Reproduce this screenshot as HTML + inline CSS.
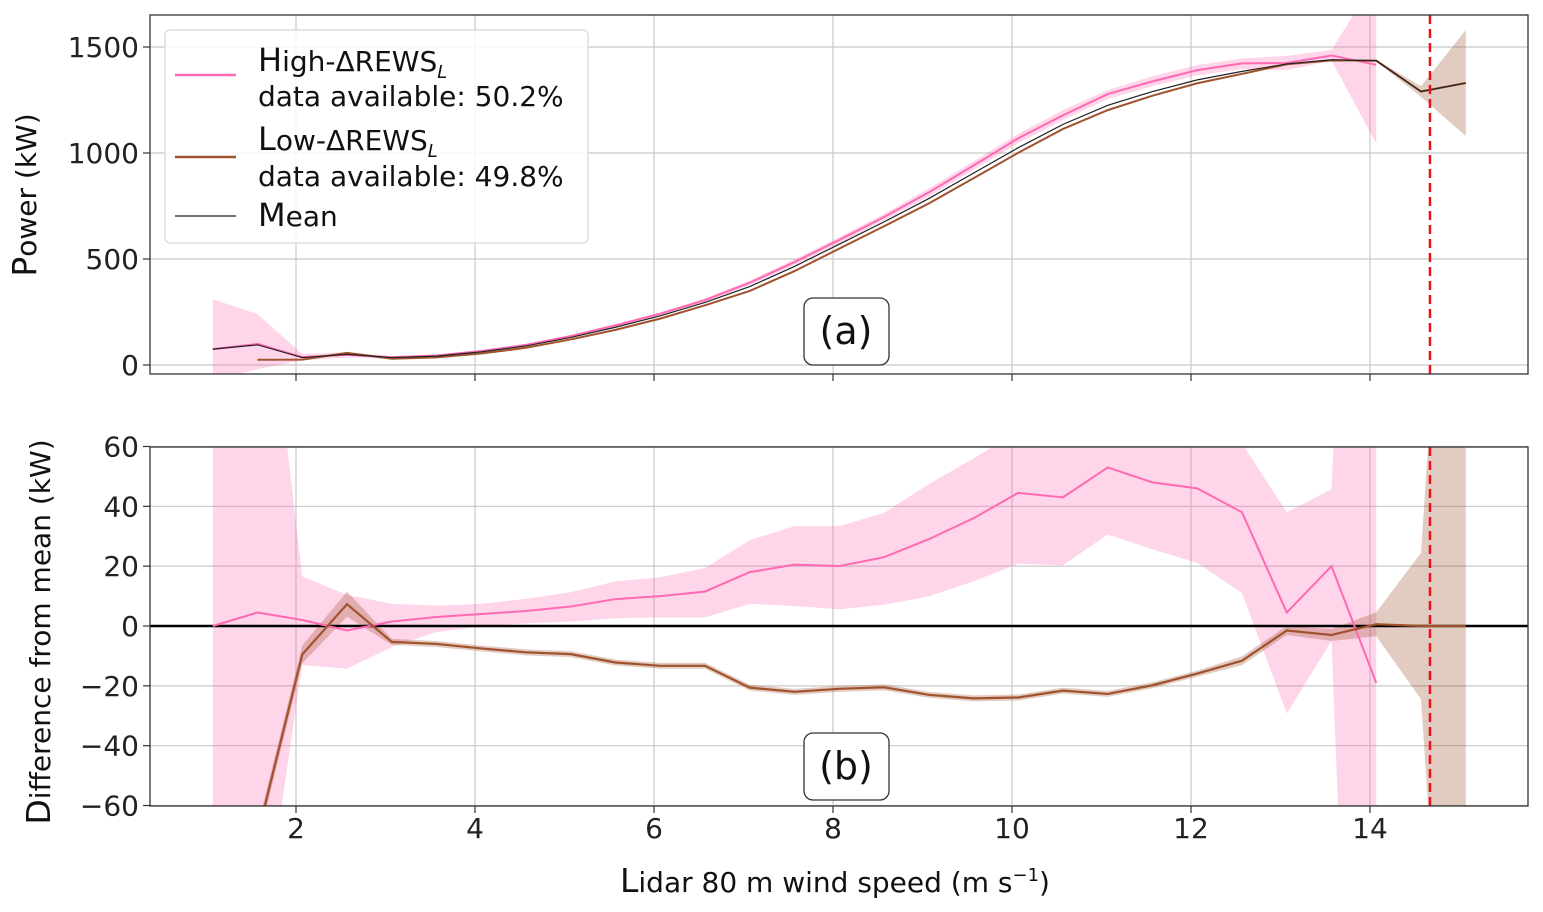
<!DOCTYPE html>
<html><head><meta charset="utf-8"><style>
html,body{margin:0;background:#fff;width:1543px;height:912px;overflow:hidden;}
#wrap{position:relative;width:1543px;height:912px;overflow:hidden;}
svg{display:block;font-family:"DejaVu Sans","Liberation Sans",sans-serif;}
</style></head><body><div id="wrap">
<svg id="chart" width="1543" height="912" viewBox="0 0 1543 912" style="position:absolute;left:0;top:0"></svg>
<script>
const windSpeed=[1.07,1.57,2.07,2.57,3.07,3.57,4.07,4.57,5.07,5.57,6.07,6.57,7.07,7.57,8.07,8.57,9.07,9.57,10.07,10.57,11.07,11.57,12.07,12.57,13.07,13.57,14.07,14.57,15.07];
const meanPower=[75,95,35,50,35,42,62,90,130,178,232,295,370,465,570,675,785,905,1025,1135,1225,1290,1345,1385,1420,1440,1435,1290,1330];
const highDiff=[0,4.5,2,-1.5,1.5,3,4,5,6.5,9,10,11.5,18,20.5,20,23,29,36,44.5,43,53,48,46,38,4.5,20,-19,null,null];
const highBandLo=[-150,-115,-13,-14.3,-7,-2,-0.2,0.9,1.5,2.6,2.9,2.9,7.4,6.7,5.6,7.1,9.9,14.9,20.8,20.3,30.6,25.6,21.1,11,-29.3,-5,-390,null,null];
const highBandHi=[235,145,16.6,10.4,7.4,6.8,7.4,9.1,11.3,14.9,16.3,19.4,28.7,33.4,33.4,37.8,47.4,56,65,68,72,72,70,61,38,45.7,390,null,null];
const lowDiff=[null,-70,-9.5,7.3,-5.3,-6,-7.5,-8.8,-9.4,-12.2,-13.3,-13.3,-20.6,-22,-21,-20.5,-23,-24.2,-23.9,-21.6,-22.7,-19.8,-15.9,-11.6,-1.5,-3,0.6,0,0];
const lowBandHalf=[null,3,3,4.2,1,1,1,1,1,1,1,1,1,1,1,1,1,1,1,1,1,1,1,1.5,1.5,2,4,24.5,250];
const topTicks=[0,500,1000,1500];
const botTicks=[-60,-40,-20,0,20,40,60];
const xTicks=[2,4,6,8,10,12,14];
const cutoffSpeed=14.67;

const NS="http://www.w3.org/2000/svg";
const svg=document.getElementById('chart');
const L=150,R=1528;
const P1={t:15,b:374},P2={t:447,b:806};
const xs=v=>117+89.5*v;
const yTop=v=>365-v*0.212;
const yBot=v=>626-v*2.992;
function el(tag,attrs,parent){const e=document.createElementNS(NS,tag);for(const k in attrs)e.setAttribute(k,attrs[k]);(parent||svg).appendChild(e);return e;}
const defs=el('defs',{});
const c1=el('clipPath',{id:'c1'},defs);el('rect',{x:L,y:P1.t,width:R-L,height:P1.b-P1.t},c1);
const c2=el('clipPath',{id:'c2'},defs);el('rect',{x:L,y:P2.t,width:R-L,height:P2.b-P2.t},c2);

function panel(P,ticks,ys,name){
  const g=el('g',{});
  
  
  xTicks.forEach(t=>{
    const l=el('line',{x1:xs(t),x2:xs(t),y1:P.t,y2:P.b,stroke:'#c8c8c8','stroke-width':1.2},g);
    
    el('line',{x1:xs(t),x2:xs(t),y1:P.b,y2:P.b+7,stroke:'#333','stroke-width':1.2},g);
  });
  ticks.forEach(t=>{
    const y=ys(t);
    const l=el('line',{x1:L,x2:R,y1:y,y2:y,stroke:'#c8c8c8','stroke-width':1.2},g);
    
    el('line',{x1:L-7,x2:L,y1:y,y2:y,stroke:'#333','stroke-width':1.2},g);
    const tx=el('text',{x:L-11,y:y+10,'text-anchor':'end','font-size':28,fill:'#222'},g);
    tx.textContent=t<0?'\u2212'+Math.abs(t):String(t);
    
  });
  return g;
}
function bandPath(getLo,getHi,ys){
  const idx=windSpeed.map((_,i)=>i).filter(i=>getLo(i)!=null);
  let d='';
  idx.forEach((i,j)=>{d+=(j?'L':'M')+xs(windSpeed[i])+','+ys(getHi(i));});
  idx.slice().reverse().forEach(i=>{d+='L'+xs(windSpeed[i])+','+ys(getLo(i));});
  return d+'Z';
}
function linePath(get,ys){
  let d='';let started=false;
  windSpeed.forEach((x,i)=>{const v=get(i);if(v==null)return;d+=(started?'L':'M')+xs(x)+','+ys(v);started=true;});
  return d;
}
const PINK='#ff69b4',BROWN='#a0522d',PINKBAND='rgba(255,105,180,0.28)',BROWNBAND='rgba(160,82,45,0.3)';

panel(P1,topTicks,yTop,'power-panel');
const g1=el('g',{'clip-path':'url(#c1)'});
let e;
e=el('path',{d:bandPath(i=>highDiff[i]==null?null:meanPower[i]+highBandLo[i],i=>meanPower[i]+highBandHi[i],yTop),fill:PINKBAND},g1);

e=el('path',{d:bandPath(i=>lowDiff[i]==null?null:meanPower[i]+lowDiff[i]-lowBandHalf[i],i=>meanPower[i]+lowDiff[i]+lowBandHalf[i],yTop),fill:BROWNBAND},g1);

e=el('path',{d:linePath(i=>highDiff[i]==null?null:meanPower[i]+highDiff[i],yTop),fill:'none',stroke:PINK,'stroke-width':2},g1);

e=el('path',{d:linePath(i=>lowDiff[i]==null?null:meanPower[i]+lowDiff[i],yTop),fill:'none',stroke:BROWN,'stroke-width':2},g1);

e=el('path',{d:linePath(i=>meanPower[i],yTop),fill:'none',stroke:'#222','stroke-width':1.2},g1);

e=el('line',{x1:xs(cutoffSpeed),x2:xs(cutoffSpeed),y1:P1.t,y2:P1.b,stroke:'#e8121b','stroke-width':2.5,'stroke-dasharray':'9,5'});

el('rect',{x:L,y:P1.t,width:R-L,height:P1.b-P1.t,fill:'none',stroke:'#333','stroke-width':1.3});

panel(P2,botTicks,yBot,'difference-panel');
const g2=el('g',{'clip-path':'url(#c2)'});
e=el('path',{d:bandPath(i=>highBandLo[i],i=>highBandHi[i],yBot),fill:PINKBAND},g2);

e=el('path',{d:bandPath(i=>lowDiff[i]==null?null:lowDiff[i]-lowBandHalf[i],i=>lowDiff[i]+lowBandHalf[i],yBot),fill:BROWNBAND},g2);

e=el('line',{x1:L,x2:R,y1:yBot(0),y2:yBot(0),stroke:'#000','stroke-width':2.5},g2);

e=el('path',{d:linePath(i=>highDiff[i],yBot),fill:'none',stroke:PINK,'stroke-width':2},g2);

e=el('path',{d:linePath(i=>lowDiff[i],yBot),fill:'none',stroke:BROWN,'stroke-width':2.2},g2);

e=el('line',{x1:xs(cutoffSpeed),x2:xs(cutoffSpeed),y1:P2.t,y2:P2.b,stroke:'#e8121b','stroke-width':2.5,'stroke-dasharray':'9,5'});

el('rect',{x:L,y:P2.t,width:R-L,height:P2.b-P2.t,fill:'none',stroke:'#333','stroke-width':1.3});
xTicks.forEach(t=>{
  const tx=el('text',{x:xs(t),y:838,'text-anchor':'middle','font-size':28,fill:'#222'});
  tx.textContent=String(t);
  
  
});
</script>
<svg width="1543" height="912" style="position:absolute;left:0;top:0">
  <g>
    <rect x="165" y="30" width="423" height="213" rx="5" fill="rgba(255,255,255,0.85)" stroke="#d8d8d8" stroke-width="1.3"/>
    <line x1="175" x2="236" y1="75" y2="75" stroke="#ff69b4" stroke-width="2.5"/>
    <text x="258" y="71" font-size="28" fill="#111"><tspan font-size="32">H</tspan>igh-ΔREWS<tspan font-size="18" dy="7" font-style="italic">L</tspan></text>
    <text x="258" y="106" font-size="28" fill="#111">data available: 50.2%</text>
    <line x1="175" x2="236" y1="157" y2="157" stroke="#a0522d" stroke-width="2.5"/>
    <text x="258" y="150" font-size="28" fill="#111"><tspan font-size="32">L</tspan>ow-ΔREWS<tspan font-size="18" dy="7" font-style="italic">L</tspan></text>
    <text x="258" y="186" font-size="28" fill="#111">data available: 49.8%</text>
    <line x1="175" x2="236" y1="216" y2="216" stroke="#444" stroke-width="1.5"/>
    <text x="258" y="226" font-size="28" fill="#111"><tspan font-size="32">M</tspan>ean</text>
  </g>
  <g>
    <rect x="804" y="298" width="85" height="67" rx="9" fill="#fff" stroke="#333" stroke-width="1.3"/>
    <text x="846" y="344" font-size="38" text-anchor="middle" fill="#111">(a)</text>
  </g>
  <g>
    <rect x="804" y="733" width="85" height="67" rx="9" fill="#fff" stroke="#333" stroke-width="1.3"/>
    <text x="846" y="779" font-size="38" text-anchor="middle" fill="#111">(b)</text>
  </g>
  <text transform="translate(36,195) rotate(-90)" font-size="28" text-anchor="middle" fill="#111"><tspan font-size="33">P</tspan>ower (kW)</text>
  <text transform="translate(50,632) rotate(-90)" font-size="28" text-anchor="middle" fill="#111"><tspan font-size="33">D</tspan>ifference from mean (kW)</text>
  <text x="835" y="892" font-size="28" text-anchor="middle" fill="#111"><tspan font-size="33">L</tspan>idar 80 m wind speed (m s<tspan font-size="18" dy="-11">−1</tspan><tspan dy="11">)</tspan></text>
</svg>
</div></body></html>
